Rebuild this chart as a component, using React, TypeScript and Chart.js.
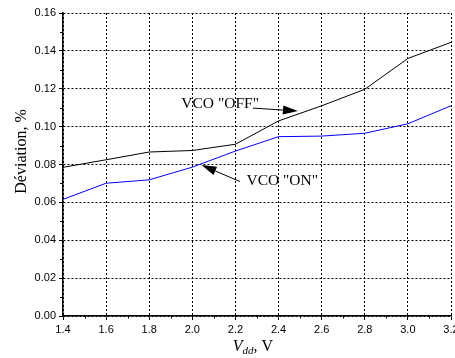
import React, { useEffect, useRef } from "react";
import { Chart, registerables } from "chart.js";

Chart.register(...registerables);

// ---- data ----
const vdd = [1.4, 1.6, 1.8, 2.0, 2.2, 2.4, 2.6, 2.8, 3.0, 3.2];
const vcoOff = [0.0785, 0.0825, 0.0866, 0.0874, 0.0907, 0.103, 0.111, 0.1197, 0.136, 0.1445];
const vcoOn = [0.0616, 0.0701, 0.0719, 0.0786, 0.0871, 0.0947, 0.095, 0.0965, 0.1015, 0.111];
const xMinorTicks = [1.5, 1.7, 1.9, 2.1, 2.3, 2.5, 2.7, 2.9, 3.1];
const yMinorTicks = [0.01, 0.03, 0.05, 0.07, 0.09, 0.11, 0.13, 0.15];
const yTitle = "Déviation, %";

// annotation anchors (data coordinates)
const annOffText = { x: 1.949, y: 0.1119, text: 'VCO "OFF"' };
const annOffArrow = { x1: 2.281, y1: 0.1098, x2: 2.49, y2: 0.1082 };
const annOnText = { x: 2.251, y: 0.0713, text: 'VCO "ON"' };
const annOnArrow = { x1: 2.221, y1: 0.071, x2: 2.0425, y2: 0.0797 };

const SERIF = '"Liberation Serif", "Times New Roman", serif';
const SANS = '"Liberation Sans", Arial, sans-serif';

function drawArrow(ctx: CanvasRenderingContext2D, x1: number, y1: number, x2: number, y2: number) {
  const ang = Math.atan2(y2 - y1, x2 - x1);
  const len = 15;
  const hw = 4.5;
  const bx = x2 - len * Math.cos(ang);
  const by = y2 - len * Math.sin(ang);
  ctx.beginPath();
  ctx.moveTo(x1, y1);
  ctx.lineTo(bx, by);
  ctx.strokeStyle = "#000";
  ctx.lineWidth = 1;
  ctx.stroke();
  ctx.beginPath();
  ctx.moveTo(x2, y2);
  ctx.lineTo(bx + hw * Math.sin(ang), by - hw * Math.cos(ang));
  ctx.lineTo(bx - hw * Math.sin(ang), by + hw * Math.cos(ang));
  ctx.closePath();
  ctx.fillStyle = "#000";
  ctx.fill();
}

const decorPlugin = {
  id: "decor",
  afterDraw(chart: any) {
    const ctx: CanvasRenderingContext2D = chart.ctx;
    const xs = chart.scales.x;
    const ys = chart.scales.y;
    const area = chart.chartArea;
    ctx.save();
    // minor ticks
    ctx.strokeStyle = "#000";
    ctx.lineWidth = 1;
    ctx.beginPath();
    for (const v of yMinorTicks) {
      const py = Math.round(ys.getPixelForValue(v)) + 0.5;
      ctx.moveTo(area.left - 3, py);
      ctx.lineTo(area.left, py);
    }
    for (const v of xMinorTicks) {
      const px = Math.round(xs.getPixelForValue(v)) + 0.5;
      ctx.moveTo(px, area.bottom);
      ctx.lineTo(px, area.bottom + 2.5);
    }
    ctx.stroke();

    // annotations
    ctx.fillStyle = "#000";
    ctx.font = `15.5px ${SERIF}`;
    ctx.textBaseline = "middle";
    ctx.textAlign = "left";
    ctx.fillText(annOffText.text, xs.getPixelForValue(annOffText.x), ys.getPixelForValue(annOffText.y));
    ctx.fillText(annOnText.text, xs.getPixelForValue(annOnText.x), ys.getPixelForValue(annOnText.y));
    drawArrow(ctx,
      xs.getPixelForValue(annOffArrow.x1), ys.getPixelForValue(annOffArrow.y1),
      xs.getPixelForValue(annOffArrow.x2), ys.getPixelForValue(annOffArrow.y2));
    drawArrow(ctx,
      xs.getPixelForValue(annOnArrow.x1), ys.getPixelForValue(annOnArrow.y1),
      xs.getPixelForValue(annOnArrow.x2), ys.getPixelForValue(annOnArrow.y2));

    // y title
    ctx.save();
    ctx.translate(25.5, (area.top + area.bottom) / 2 - 13);
    ctx.rotate(-Math.PI / 2);
    ctx.font = `16px ${SERIF}`;
    ctx.textAlign = "center";
    ctx.textBaseline = "alphabetic";
    ctx.fillText(yTitle, 0, 0);
    ctx.restore();

    // x title: V_dd, V
    const big = `16px ${SERIF}`;
    const bigIt = `italic 16px ${SERIF}`;
    const sub = `italic 11px ${SERIF}`;
    ctx.textAlign = "left";
    ctx.textBaseline = "alphabetic";
    ctx.font = bigIt; const w1 = ctx.measureText("V").width;
    ctx.font = sub; const w2 = ctx.measureText("dd").width;
    ctx.font = big; const w3 = ctx.measureText(", V").width;
    const total = w1 + w2 + w3;
    const cx = (area.left + area.right) / 2 - 4;
    const base = 351;
    let x0 = cx - total / 2;
    ctx.font = bigIt; ctx.fillText("V", x0, base); x0 += w1;
    ctx.font = sub; ctx.fillText("dd", x0, base + 3); x0 += w2;
    ctx.font = big; ctx.fillText(", V", x0, base);
    ctx.restore();
  },
};

export default function App() {
  const ref = useRef<HTMLCanvasElement | null>(null);
  useEffect(() => {
    document.body.style.margin = "0";
    const canvas = ref.current;
    if (!canvas) return;
    const chart = new Chart(canvas, {
      type: "line",
      data: {
        datasets: [
          {
            label: 'VCO "OFF"',
            data: vdd.map((x, i) => ({ x, y: vcoOff[i] })),
            borderColor: "#000000",
            borderWidth: 1,
            pointRadius: 0,
            tension: 0,
            fill: false,
          },
          {
            label: 'VCO "ON"',
            data: vdd.map((x, i) => ({ x, y: vcoOn[i] })),
            borderColor: "#0000ff",
            borderWidth: 1,
            pointRadius: 0,
            tension: 0,
            fill: false,
          },
        ],
      },
      options: {
        animation: false,
        responsive: false,
        maintainAspectRatio: false,
        layout: { padding: { top: 13, right: 4, left: 0, bottom: 0 } },
        plugins: { legend: { display: false }, tooltip: { enabled: false } },
        scales: {
          x: {
            type: "linear",
            min: 1.4,
            max: 3.2,
            afterFit: (s: any) => { s.height = 42; s.paddingRight = 0; s.paddingLeft = 0; },
            ticks: {
              stepSize: 0.2,
              autoSkip: false,
              maxRotation: 0,
              padding: 3,
              color: "#000",
              font: { family: SANS, size: 11 },
              callback: (v: any) => Number(v).toFixed(1),
            },
            grid: { color: "#000", lineWidth: 1, tickLength: 4, tickColor: "#000" },
            border: { display: true, color: "#000", width: 1.5, dash: [2, 2] },
          },
          y: {
            type: "linear",
            min: 0,
            max: 0.16,
            afterFit: (s: any) => { s.width = 63; s.paddingTop = 0; s.paddingBottom = 0; },
            ticks: {
              stepSize: 0.02,
              padding: 3,
              color: "#000",
              font: { family: SANS, size: 11 },
              callback: (v: any) => Number(v).toFixed(2),
            },
            grid: { color: "#000", lineWidth: 1, tickLength: 4, tickColor: "#000" },
            border: { display: true, color: "#000", width: 1.5, dash: [2, 2] },
          },
        },
      },
      plugins: [decorPlugin],
    } as any);
    return () => chart.destroy();
  }, []);
  return (
    <div style={{ position: "fixed", left: 0, top: 0, width: 455, height: 358, background: "#fff" }}>
      <canvas ref={ref} width={455} height={358} style={{ width: 455, height: 358, display: "block" }} />
    </div>
  );
}
